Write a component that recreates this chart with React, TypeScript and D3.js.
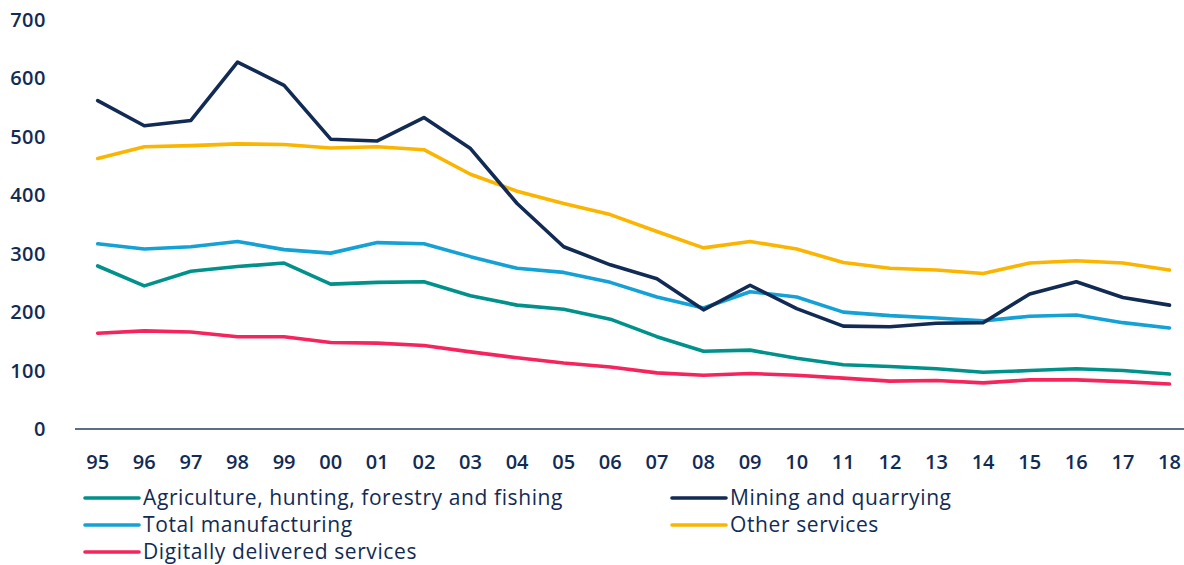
import React from "react";
import * as d3 from "d3";

const years = ["95", "96", "97", "98", "99", "00", "01", "02", "03", "04", "05", "06", "07", "08", "09", "10", "11", "12", "13", "14", "15", "16", "17", "18"];

const agriculture = [279, 245, 270, 278, 284, 248, 251, 252, 228, 212, 205, 188, 158, 133, 135, 121, 110, 107, 103, 97, 100, 103, 100, 94];
const mining = [562, 519, 528, 628, 588, 496, 493, 533, 480, 386, 312, 281, 257, 204, 246, 206, 176, 175, 181, 182, 231, 252, 225, 212];
const manufacturing = [317, 308, 312, 321, 307, 301, 319, 317, 295, 275, 268, 251, 226, 207, 235, 226, 200, 194, 190, 185, 193, 195, 182, 173];
const otherServices = [463, 483, 485, 488, 487, 481, 483, 478, 436, 407, 386, 367, 338, 310, 321, 308, 285, 275, 272, 266, 284, 288, 284, 272];
const digital = [164, 168, 166, 158, 158, 148, 147, 143, 132, 122, 113, 106, 96, 92, 95, 92, 87, 82, 83, 79, 84, 84, 81, 77];

const yTicks = [0, 100, 200, 300, 400, 500, 600, 700];

const series = [
  { name: "Agriculture, hunting, forestry and fishing", values: agriculture, color: "#00918a" },
  { name: "Mining and quarrying", values: mining, color: "#122b54" },
  { name: "Total manufacturing", values: manufacturing, color: "#14a1d6" },
  { name: "Other services", values: otherServices, color: "#fbb500" },
  { name: "Digitally delivered services", values: digital, color: "#f5245c" },
];

// draw order (back to front) roughly as in the original
const drawOrder = [4, 0, 2, 3, 1];

const W = 1184;
const H = 565;
const textColor = "#122b54";
const font = "'Open Sans', sans-serif";

export default function App() {
  const x = d3.scalePoint<string>().domain(years).range([97.7, 1169.5]);
  const y = d3.scaleLinear().domain([0, 700]).range([429, 20]);

  const line = d3
    .line<number>()
    .x((_, i) => x(years[i]) as number)
    .y((d) => y(d));

  // legend: two columns, filled row by row
  const legendCols = [85, 672];
  const legendRows = [498, 525, 552];

  return (
    <svg
      width={W}
      height={H}
      style={{ position: "absolute", left: 0, top: 0, background: "#fff" }}
      fontFamily={font}
    >
      {/* y axis labels */}
      {yTicks.map((t) => (
        <text
          key={t}
          x={46}
          y={y(t)}
          dy="0.35em"
          textAnchor="end"
          fontSize={20}
          fontWeight={600}
          fill={textColor}
          letterSpacing={0.5}
        >
          {t}
        </text>
      ))}

      {/* series lines */}
      {drawOrder.map((i) => (
        <path
          key={series[i].name}
          d={line(series[i].values) || ""}
          fill="none"
          stroke={series[i].color}
          strokeWidth={3.6}
          strokeLinejoin="round"
          strokeLinecap="round"
        />
      ))}

      {/* x axis */}
      <line x1={75} x2={1184} y1={y(0)} y2={y(0)} stroke="#2a3b60" strokeWidth={1.5} />
      {years.map((yr) => (
        <text
          key={yr}
          x={x(yr)}
          y={462}
          dy="0.35em"
          textAnchor="middle"
          fontSize={20}
          fontWeight={600}
          fill={textColor}
        >
          {yr}
        </text>
      ))}

      {/* legend */}
      {series.map((s, i) => {
        const lx = legendCols[i % 2];
        const ly = legendRows[Math.floor(i / 2)];
        return (
          <g key={s.name} transform={`translate(${lx},${ly})`}>
            <line x1={0} x2={54} y1={0} y2={0} stroke={s.color} strokeWidth={3.6} strokeLinecap="round" />
            <text x={58} y={0} dy="0.35em" fontSize={21} fontWeight={500} letterSpacing={0.6} fill={textColor}>
              {s.name}
            </text>
          </g>
        );
      })}
    </svg>
  );
}
